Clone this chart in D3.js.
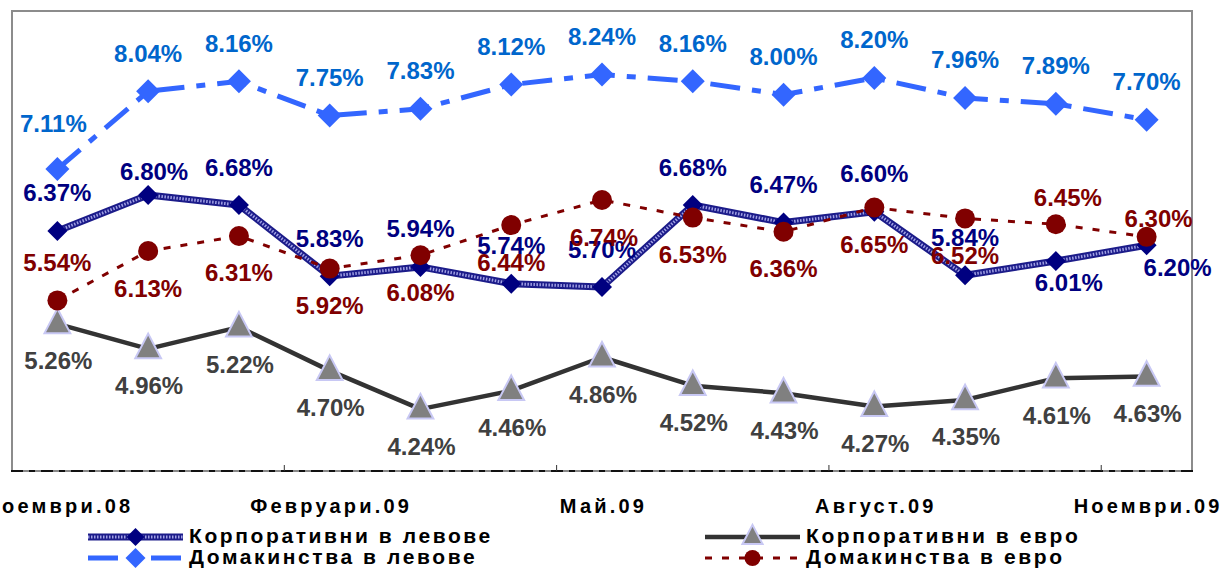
<!DOCTYPE html>
<html>
<head>
<meta charset="utf-8">
<script src="https://cdn.jsdelivr.net/npm/d3@7"></script>
<style>
  html, body { margin: 0; padding: 0; background: #fff; }
  svg { display: block; }
  text { font-family: "Liberation Sans", Arial, sans-serif; font-weight: bold; }
</style>
</head>
<body>
<svg id="chart" width="1222" height="568"></svg>
<script>
// ---- data ----
const categories = ["Ноември.08","Декември.08","Януари.09","Февруари.09","Март.09","Април.09","Май.09","Юни.09","Юли.09","Август.09","Септември.09","Октомври.09","Ноември.09"];
const tickLabels = ["Ноември.08","Февруари.09","Май.09","Август.09","Ноември.09"];
const corpLev  = [6.37, 6.80, 6.68, 5.83, 5.94, 5.74, 5.70, 6.68, 6.47, 6.60, 5.84, 6.01, 6.20];
const corpEur  = [5.26, 4.96, 5.22, 4.70, 4.24, 4.46, 4.86, 4.52, 4.43, 4.27, 4.35, 4.61, 4.63];
const hhLev    = [7.11, 8.04, 8.16, 7.75, 7.83, 8.12, 8.24, 8.16, 8.00, 8.20, 7.96, 7.89, 7.70];
const hhEur    = [5.54, 6.13, 6.31, 5.92, 6.08, 6.44, 6.74, 6.53, 6.36, 6.65, 6.52, 6.45, 6.30];
const seriesNames = ["Корпоративни в левове","Корпоративни в евро","Домакинства в левове","Домакинства в евро"];

// ---- label placement (offsets from point) ----
const A = -38, B = 37;
const corpLevLbl = [[0,A],[6,-24],[0,A],[0,A],[0,A],[0,A],[0,A],[0,A],[0,A],[0,A],[0,A],[13,21],[31,22]];
const corpEurLbl = categories.map(() => [1,B]);
const hhLevLbl   = [[-4,-46],[0,A],[0,A],[0,A],[0,A],[0,A],[0,A],[0,A],[0,A],[0,A],[0,A],[0,A],[0,A]];
const hhEurLbl   = [[0,A],[0,B],[0,B],[0,B],[0,B],[0,B],[2,B],[0,B],[0,B],[0,B],[0,B],[12,-27],[12,-18]];

const svg = d3.select("#chart");
const PL = 12, PR = 1192, PT = 11, PB = 471;

const x = d3.scaleBand().domain(categories).range([PL, PR]).padding(0);
const y = d3.scaleLinear().domain([3.5, 9]).range([PB, PT]);
const cx = c => x(c) + x.bandwidth() / 2;

// plot area
svg.append("rect").attr("x", PL).attr("y", PT).attr("width", PR - PL).attr("height", PB - PT)
  .attr("fill", "#fff").attr("stroke", "#8c8c8c").attr("stroke-width", 2);

// bottom axis line
svg.append("line").attr("x1", PL - 1).attr("x2", PR + 1).attr("y1", PB).attr("y2", PB)
  .attr("stroke", "#888").attr("stroke-width", 2);
svg.append("line").attr("x1", PL - 1).attr("x2", PR + 1).attr("y1", PB).attr("y2", PB)
  .attr("stroke", "#111").attr("stroke-width", 2).attr("stroke-dasharray", "12,6,6,6");

// boundary ticks every 3 categories
const tickCats = categories.filter((d, i) => i > 0 && i % 3 === 0);
svg.append("g").selectAll("line").data(tickCats).join("line")
  .attr("x1", d => x(d)).attr("x2", d => x(d)).attr("y1", PB).attr("y2", PB - 6)
  .attr("stroke", "#333").attr("stroke-width", 1);

// category labels via axis
const labelCats = categories.filter((d, i) => i % 3 === 0);
const xAxis = d3.axisBottom(x).tickValues(labelCats).tickSize(0).tickPadding(0)
  .tickFormat(d => tickLabels[labelCats.indexOf(d)]);
const gx = svg.append("g").attr("transform", `translate(0,${PB})`).call(xAxis);
gx.select(".domain").remove();
gx.selectAll("text").attr("y", 42).attr("dy", 0).attr("dx", 1.5).attr("fill", "#000")
  .style("font-size", "20px").style("letter-spacing", "3.2px")
  .style("font-family", '"Liberation Sans", Arial, sans-serif').style("font-weight", "bold");

// ---- series ----
const data = v => v.map((val, i) => ({ c: categories[i], v: val, i }));
const line = d3.line().x(d => cx(d.c)).y(d => y(d.v));

const gLines = svg.append("g");
const gMarks = svg.append("g");
const gLabels = svg.append("g");

function diamond(g, px, py, r, fill) {
  g.append("path").attr("d", `M${px},${py - r}L${px + r},${py}L${px},${py + r}L${px - r},${py}Z`).attr("fill", fill);
}
function triangle(g, px, py, s) {
  g.append("path").attr("d", `M${px},${py - s * 0.62}L${px + s * 0.56},${py + s * 0.45}L${px - s * 0.56},${py + s * 0.45}Z`)
    .attr("fill", "#808080").attr("stroke", "#c8c8f4").attr("stroke-width", 2);
}
function drawCorpLevLine(g, d) {
  g.append("path").attr("d", d).attr("fill", "none").attr("stroke", "#1c1c8a").attr("stroke-width", 7).attr("stroke-linejoin", "round");
  g.append("path").attr("d", d).attr("fill", "none").attr("stroke", "#a0a0e4").attr("stroke-width", 3).attr("stroke-dasharray", "1.5,1.5");
}
function drawCorpEurLine(g, d) {
  g.append("path").attr("d", d).attr("fill", "none").attr("stroke", "#333").attr("stroke-width", 4.5).attr("stroke-linejoin", "round");
}
function drawHhLevLine(g, d) {
  g.append("path").attr("d", d).attr("fill", "none").attr("stroke", "#3366ff").attr("stroke-width", 5).attr("stroke-dasharray", "30,12,9,12");
}
function drawHhEurLine(g, d) {
  g.append("path").attr("d", d).attr("fill", "none").attr("stroke", "#800000").attr("stroke-width", 3).attr("stroke-dasharray", "7,10");
}

drawCorpLevLine(gLines, line(data(corpLev)));
drawCorpEurLine(gLines, line(data(corpEur)));
drawHhLevLine(gLines, line(data(hhLev)));
drawHhEurLine(gLines, line(data(hhEur)));

data(corpLev).forEach(d => diamond(gMarks, cx(d.c), y(d.v), 10, "#000080"));
data(corpEur).forEach(d => triangle(gMarks, cx(d.c), y(d.v) - 1, 23));
data(hhLev).forEach(d => diamond(gMarks, cx(d.c), y(d.v), 12, "#3366ff"));
data(hhEur).forEach(d => gMarks.append("circle").attr("cx", cx(d.c)).attr("cy", y(d.v)).attr("r", 10).attr("fill", "#800000"));

function labels(vals, pos, color) {
  gLabels.append("g").selectAll("text").data(data(vals)).join("text")
    .attr("x", d => cx(d.c) + pos[d.i][0])
    .attr("y", d => y(d.v) + pos[d.i][1] + 8.5)
    .attr("text-anchor", "middle").attr("fill", color)
    .style("font-size", "24px")
    .text(d => d.v.toFixed(2) + "%");
}
labels(corpLev, corpLevLbl, "#000080");
labels(corpEur, corpEurLbl, "#404040");
labels(hhLev, hhLevLbl, "#0066cc");
labels(hhEur, hhEurLbl, "#800000");

// ---- legend ----
const legend = svg.append("g");
const legItems = [
  { name: seriesNames[0], x0: 88, x1: 183, y: 537, type: "corpLev" },
  { name: seriesNames[1], x0: 705, x1: 800, y: 537, type: "corpEur" },
  { name: seriesNames[2], x0: 88, x1: 183, y: 558, type: "hhLev" },
  { name: seriesNames[3], x0: 705, x1: 800, y: 558, type: "hhEur" }
];
legItems.forEach(it => {
  const d = `M${it.x0},${it.y}L${it.x1},${it.y}`;
  const mx = (it.x0 + it.x1) / 2;
  if (it.type === "corpLev") { drawCorpLevLine(legend, d); diamond(legend, mx, it.y, 9, "#000080"); }
  if (it.type === "corpEur") { drawCorpEurLine(legend, d); triangle(legend, mx, it.y - 1, 18); }
  if (it.type === "hhLev") { drawHhLevLine(legend, d); diamond(legend, mx, it.y, 10, "#3366ff"); }
  if (it.type === "hhEur") { drawHhEurLine(legend, d); legend.append("circle").attr("cx", mx).attr("cy", it.y).attr("r", 8).attr("fill", "#800000"); }
  legend.append("text").attr("x", it.x1 + 6).attr("y", it.y + 6).attr("fill", "#000")
    .style("font-size", "21px").style("letter-spacing", "2.6px").text(it.name);
});
</script>
</body>
</html>
